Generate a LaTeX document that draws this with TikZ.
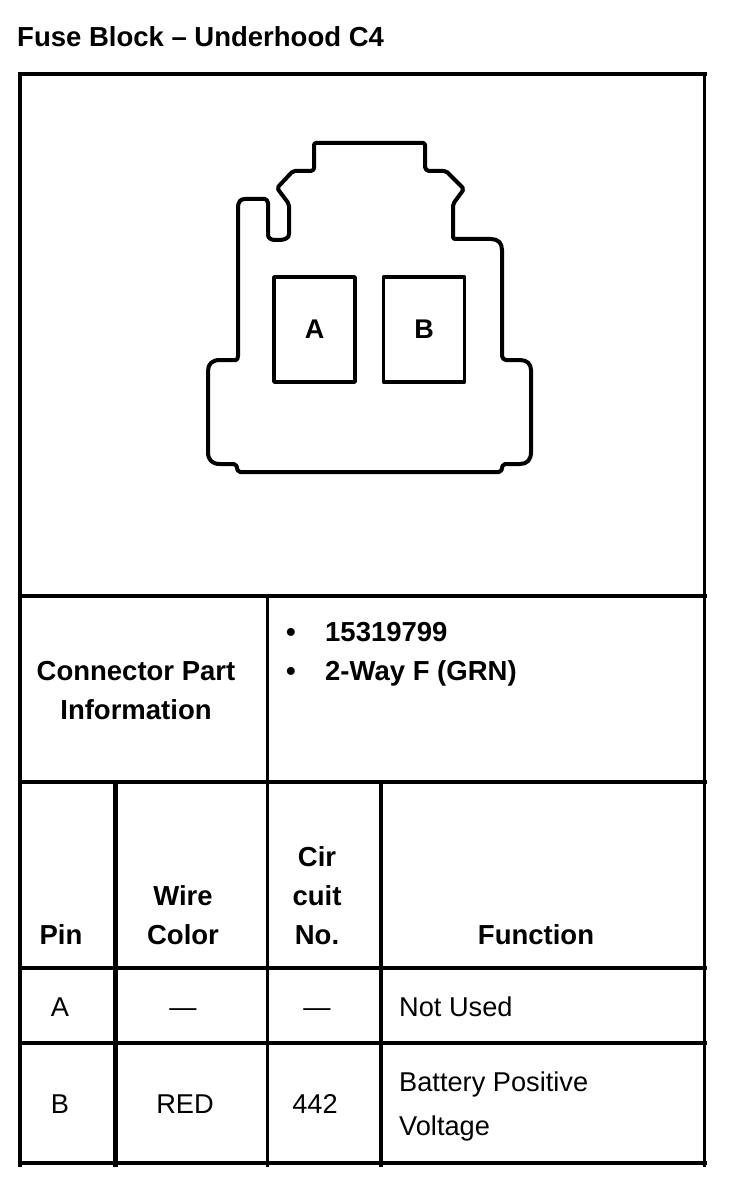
\documentclass[tikz,border=0pt]{standalone}
\usepackage{fontspec}
\setmainfont{Liberation Sans}
\begin{document}
\begin{tikzpicture}[x=1pt, y=-1pt, line join=round,
	cell/.style={anchor=base, inner sep=0pt, font=\fontsize{27.2}{32}\selectfont},
	head/.style={cell, font=\fontsize{27.5}{32}\selectfont\bfseries},
	pinbox/.style={draw, line width=3.5pt, inner sep=0pt, minimum width=81pt, minimum height=105pt, font=\fontsize{27}{32}\selectfont\bfseries}]
\useasboundingbox (0, 0) rectangle (736, 1190);
\node [head, anchor=base west] (title) at (17, 46.5) {Fuse Block -- Underhood C4};
% table
\foreach \y/\w in {74/4, 596/4.5, 782/3.5, 968/4, 1043/3.5, 1163/4}
	\draw [line width=\w pt] (19, \y) -- (706.5, \y);
\draw [line width=3.5pt] (20, 72) -- (20, 1167);
\draw [line width=3pt] (704, 74) -- (704, 1167);
\draw [line width=5pt] (115, 782) -- (115, 1167);
\draw [line width=3pt] (267.5, 596) -- (267.5, 1167);
\draw [line width=4pt] (381, 782) -- (381, 1167);
% connector outline
\draw [line width=4pt, rounded corners=2pt]
	(238, 210) .. controls (238, 201) and (241, 199) .. (247, 199) -- (263, 199)
	.. controls (266, 199) and (268, 201) .. (268, 205) -- (268, 233)
	.. controls (268, 238) and (271, 240) .. (277, 240)
	.. controls (285, 240) and (289, 238) .. (289, 232) -- (289, 204)
	-- (277, 188) -- (293, 171) -- (309, 171)
	.. controls (313, 171) and (314, 169) .. (314, 166) -- (314, 143) -- (425, 143) -- (425, 165)
	.. controls (425, 169) and (427, 171) .. (431, 171) -- (446, 171)
	-- (464, 189) -- (453, 204) -- (453, 239) -- (489, 239)
	.. controls (498, 239) and (502, 243) .. (502, 252) -- (502, 354)
	.. controls (502, 358) and (504, 360) .. (508, 360) -- (518, 360)
	.. controls (527, 360) and (531, 364) .. (531, 372) -- (531, 450)
	.. controls (531, 460) and (527, 464) .. (518, 464) -- (503, 464)
	-- (501, 472) -- (238, 472) -- (236, 464) -- (222, 464)
	.. controls (212, 464) and (208, 460) .. (208, 450) -- (208, 373)
	.. controls (208, 364) and (212, 360) .. (222, 360) -- (234, 360)
	.. controls (237, 360) and (238, 358) .. (238, 354) -- cycle;
\node [pinbox] (pinA) at (314.5, 329.5) {A};
\node [pinbox] (pinB) at (424, 329.5) {B};
% connector part information
\foreach \x/\y/\m/\t in {136/680/a/Connector Part, 136/719/b/Information, 61/944/c/Pin, 183/905/d/Wire,
		183/944/e/Color, 317/866/f/Cir, 317/905/g/cuit, 317/944/h/No., 536/944/i/Function}
	\node [head] (H\m) at (\x, \y) {\t};
\foreach \y/\m/\t in {641/a/15319799, 680/b/2-Way F (GRN)} {
	\node [head] (bullet\m) at (291, \y) {\textbullet};
	\node [head, anchor=base west] (part\m) at (325, \y) {\t};
}
% pin rows
\foreach \x/\y/\m/\t in {60/1016/a/A, 183/1016/b/---, 317/1016/c/---, 60/1113/d/B, 185/1113/e/RED, 315/1113/f/442}
	\node [cell] (R\m) at (\x, \y) {\t};
\foreach \y/\m/\t in {1016/a/Not Used, 1091/b/Battery Positive, 1135/c/Voltage}
	\node [cell, anchor=base west] (F\m) at (399, \y) {\t};
\end{tikzpicture}
\end{document}
